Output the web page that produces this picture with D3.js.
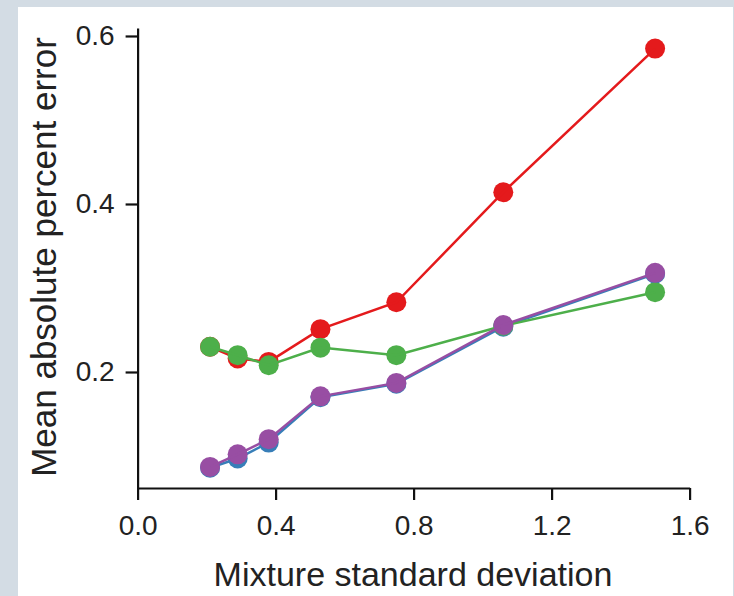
<!DOCTYPE html>
<html>
<head>
<meta charset="utf-8">
<script src="https://cdn.jsdelivr.net/npm/d3@7"></script>
<style>
  html, body { margin: 0; padding: 0; background: #d3dce4; }
  svg { display: block; }
  text { font-family: Arial, "Liberation Sans", Helvetica, sans-serif; fill: #222; }
</style>
</head>
<body>
<svg id="chart" width="734" height="596"></svg>
<script>
// Mixture standard deviation levels (x) and error per method (y)
const sdLevels = [0.21, 0.29, 0.38, 0.53, 0.75, 1.06, 1.5];
const redSeries    = [0.230, 0.216, 0.212, 0.251, 0.283, 0.414, 0.585];
const blueSeries   = [0.086, 0.097, 0.116, 0.170, 0.186, 0.254, 0.317];
const greenSeries  = [0.230, 0.220, 0.208, 0.229, 0.220, 0.255, 0.295];
const purpleSeries = [0.087, 0.102, 0.120, 0.171, 0.187, 0.256, 0.318];
const xTicks = [0.0, 0.4, 0.8, 1.2, 1.6];
const yTicks = [0.2, 0.4, 0.6];

const series = [
  { name: "red",    color: "#e41a1c", values: redSeries },
  { name: "blue",   color: "#377eb8", values: blueSeries },
  { name: "green",  color: "#4daf4a", values: greenSeries },
  { name: "purple", color: "#984ea3", values: purpleSeries }
];

const svg = d3.select("#chart");

// white panel inside the light border
svg.append("rect")
  .attr("x", 18).attr("y", 7)
  .attr("width", 715).attr("height", 589)
  .attr("fill", "#ffffff");

const x = d3.scaleLinear().domain([0, 1.6]).range([137.6, 689.6]);
const y = d3.scaleLinear().domain([0.0619, 0.6095]).range([488, 28]);

const fmt = d3.format(".1f");

// x axis
const gx = svg.append("g")
  .attr("transform", "translate(0,488)")
  .call(d3.axisBottom(x).tickValues(xTicks).tickFormat(fmt)
    .tickSizeInner(12).tickSizeOuter(0).tickPadding(15));
// y axis
const gy = svg.append("g")
  .attr("transform", "translate(137.6,0)")
  .call(d3.axisLeft(y).tickValues(yTicks).tickFormat(fmt)
    .tickSizeInner(12).tickSizeOuter(0).tickPadding(11));

[gx, gy].forEach(g => {
  g.selectAll("path.domain").attr("stroke", "#111").attr("stroke-width", 2.2);
  g.selectAll(".tick line").attr("stroke", "#111").attr("stroke-width", 2.2);
  g.selectAll(".tick text")
    .attr("font-size", 28)
    .attr("fill", "#333")
    .style("font-family", "Arial, 'Liberation Sans', sans-serif");
});

// each method: its points, then its connecting line
const line = d3.line()
  .x((d, i) => x(sdLevels[i]))
  .y(d => y(d));
const layer = svg.append("g");
series.forEach(s => {
  const g = layer.append("g");
  g.selectAll("circle")
    .data(s.values)
    .join("circle")
    .attr("cx", (d, i) => x(sdLevels[i]))
    .attr("cy", d => y(d))
    .attr("r", 10)
    .attr("fill", s.color);
  g.append("path")
    .datum(s.values)
    .attr("d", line)
    .attr("fill", "none")
    .attr("stroke", s.color)
    .attr("stroke-width", 2.5);
});

// axis titles
svg.append("text")
  .attr("x", 413).attr("y", 586)
  .attr("text-anchor", "middle")
  .attr("font-size", 34)
  .text("Mixture standard deviation");

svg.append("text")
  .attr("transform", "translate(56,257) rotate(-90)")
  .attr("text-anchor", "middle")
  .attr("font-size", 35)
  .text("Mean absolute percent error");
</script>
</body>
</html>
